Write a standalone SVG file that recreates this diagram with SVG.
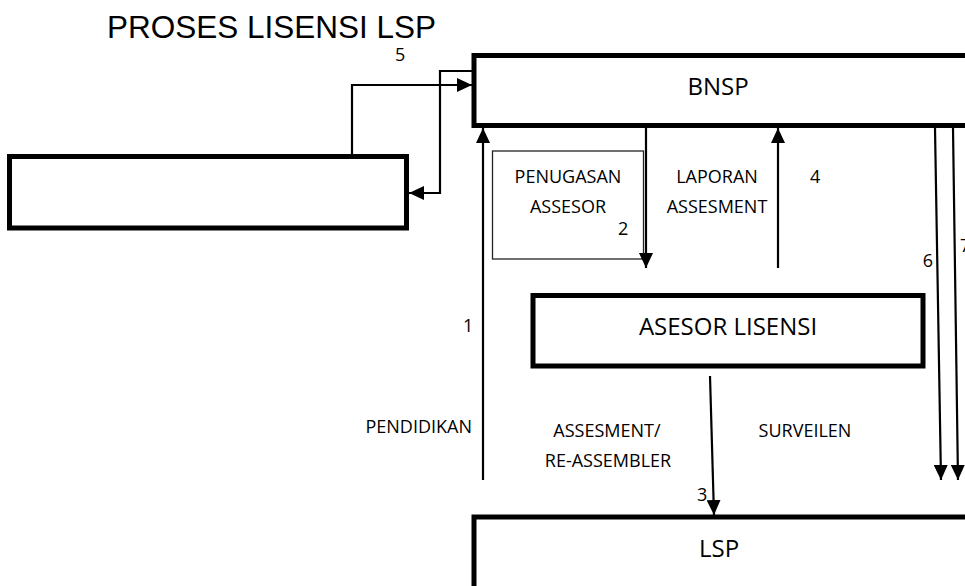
<svg xmlns="http://www.w3.org/2000/svg" width="965" height="586" viewBox="0 0 965 586">
<defs>
<marker id="ah" markerUnits="userSpaceOnUse" markerWidth="16" markerHeight="14" refX="15" refY="7" orient="auto">
<path d="M0,0 L15,7 L0,14 Z" fill="#000"/>
</marker>
<style>
.thick{fill:#fff;stroke:#000;stroke-width:5}
.thin{fill:#fff;stroke:#222;stroke-width:1.3}
.lbl{font-family:"Open Sans","Liberation Sans",sans-serif;font-size:18px;fill:#000}
.big{font-family:"Open Sans","Liberation Sans",sans-serif;font-size:24px;fill:#000}
.conn{fill:none;stroke:#000;stroke-width:2.2}
.arr{fill:none;stroke:#000;stroke-width:2.2;marker-end:url(#ah)}
</style>
</defs>
<rect width="965" height="586" fill="#fff"/>
<text x="107" y="38" font-family="'Liberation Sans',Arial,sans-serif" font-size="31.5">PROSES LISENSI LSP</text>

<g id="bnsp">
<rect class="thick" x="474" y="55.5" width="520" height="70"/>
<text class="big" x="718" y="95" text-anchor="middle" font-size="22.5">BNSP</text>
</g>
<g id="left-box">
<rect class="thick" x="9.5" y="156.5" width="397" height="71.5"/>
</g>
<g id="penugasan">
<rect class="thin" x="492.5" y="151" width="151" height="108"/>
<text class="lbl" x="568" y="183" text-anchor="middle">PENUGASAN</text>
<text class="lbl" x="568" y="213" text-anchor="middle">ASSESOR</text>
</g>
<g id="asesor">
<rect class="thick" x="533" y="295.5" width="390" height="70.5"/>
<text class="big" x="728" y="335" text-anchor="middle" font-size="25">ASESOR LISENSI</text>
</g>
<g id="lsp">
<rect class="thick" x="474" y="517" width="520" height="100"/>
<text class="big" x="719" y="557" text-anchor="middle">LSP</text>
</g>

<g id="connectors">
<polyline class="arr" points="352,156 352,85 472,85"/>
<polyline class="arr" points="474,71 440,71 440,193 409,193"/>
<line class="arr" x1="483" y1="480" x2="483" y2="128"/>
<line class="arr" x1="646" y1="128" x2="646" y2="268"/>
<line class="arr" x1="778" y1="268" x2="778" y2="128"/>
<line class="arr" x1="710" y1="376" x2="714" y2="515"/>
<line class="arr" x1="935" y1="128" x2="941" y2="480"/>
<line class="arr" x1="953" y1="128" x2="958" y2="480"/>
</g>

<g id="labels">
<text class="lbl" x="395" y="61" font-size="15">5</text>
<text class="lbl" x="618" y="235">2</text>
<text class="lbl" x="717" y="183" text-anchor="middle">LAPORAN</text>
<text class="lbl" x="717" y="213" text-anchor="middle">ASSESMENT</text>
<text class="lbl" x="810" y="183">4</text>
<text class="lbl" x="463" y="332">1</text>
<text class="lbl" x="472" y="433" text-anchor="end">PENDIDIKAN</text>
<text class="lbl" x="607" y="437" text-anchor="middle">ASSESMENT/</text>
<text class="lbl" x="608" y="467" text-anchor="middle">RE-ASSEMBLER</text>
<text class="lbl" x="805" y="437" text-anchor="middle">SURVEILEN</text>
<text class="lbl" x="697" y="501">3</text>
<text class="lbl" x="928" y="267" text-anchor="middle">6</text>
<text class="lbl" x="960" y="252">7</text>
</g>
</svg>
